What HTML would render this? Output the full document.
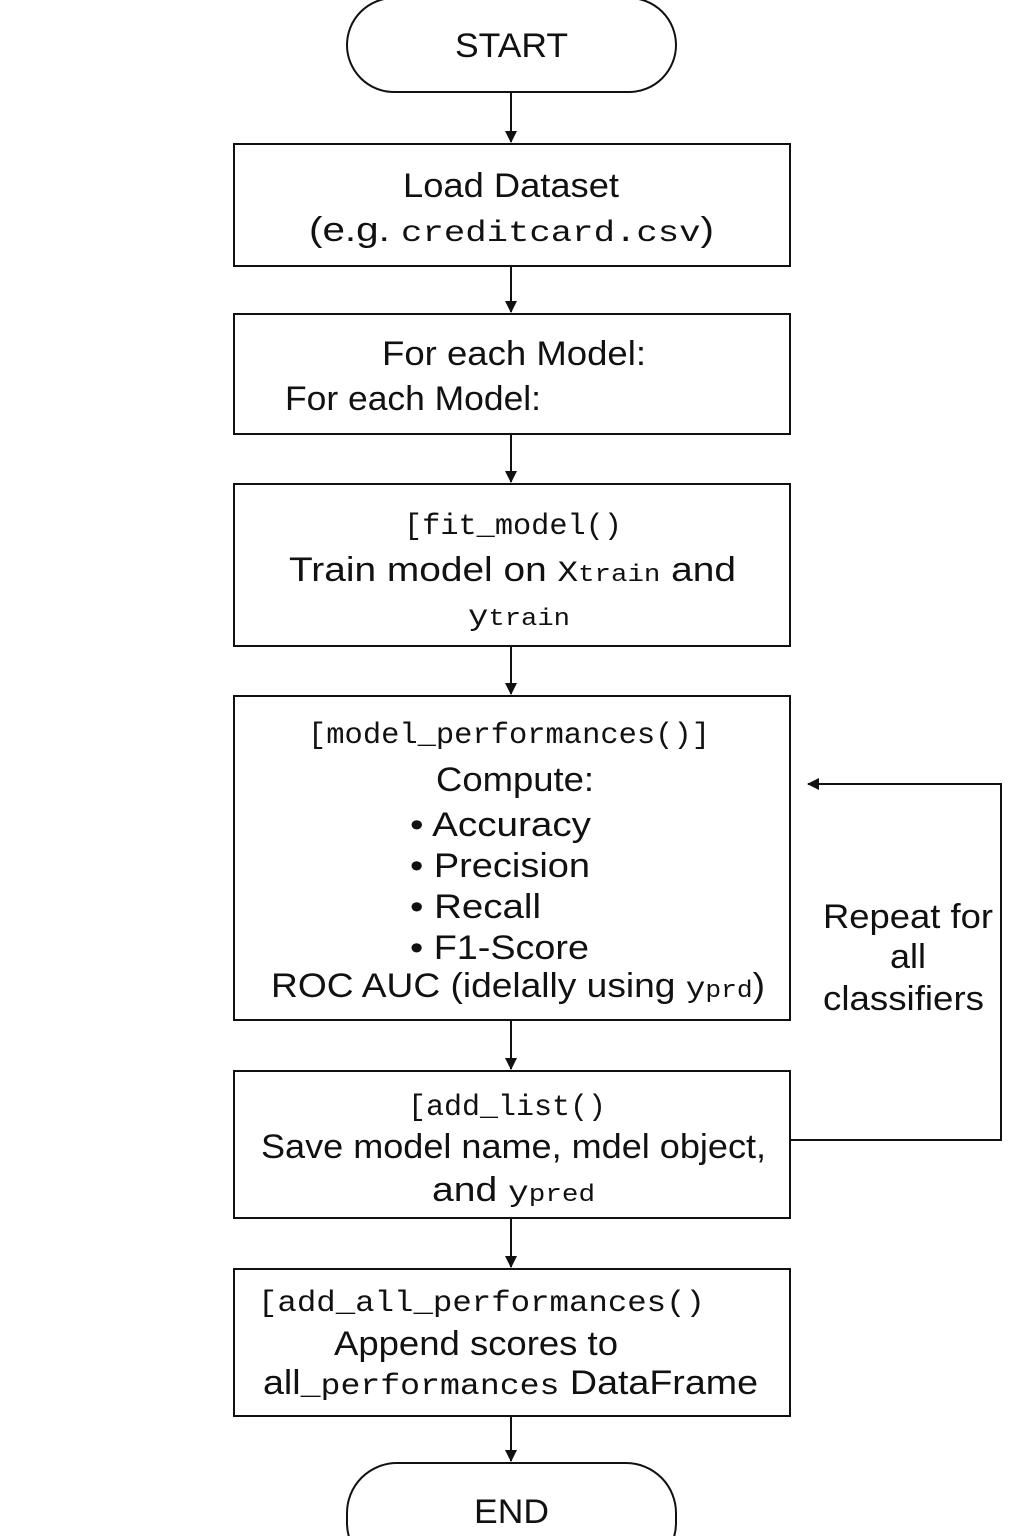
<!DOCTYPE html>
<html><head><meta charset="utf-8"><style>
html,body{margin:0;padding:0;background:#fff}
svg{display:block}
text{font-family:"Liberation Sans",sans-serif;font-size:34px;fill:#111}
.m{font-family:"Liberation Mono",monospace;font-size:30px}
.s{font-family:"Liberation Mono",monospace;font-size:24px}
</style></head><body>
<svg width="1024" height="1536" viewBox="0 0 1024 1536" xmlns="http://www.w3.org/2000/svg">
<defs><marker id="a" markerWidth="12" markerHeight="12" refX="11" refY="6" orient="auto" markerUnits="userSpaceOnUse"><path d="M0,0 L12,6 L0,12 Z" fill="#111"/></marker></defs>
<g fill="none" stroke="#111" stroke-width="2">
<rect x="347" y="-2" width="329" height="94" rx="47"/>
<rect x="234" y="144" width="556" height="122"/>
<rect x="234" y="314" width="556" height="120"/>
<rect x="234" y="484" width="556" height="162"/>
<rect x="234" y="696" width="556" height="324"/>
<rect x="234" y="1071" width="556" height="147"/>
<rect x="234" y="1269" width="556" height="147"/>
<rect x="347" y="1463" width="329" height="110" rx="50"/>
<line x1="511" y1="92" x2="511" y2="142" marker-end="url(#a)"/>
<line x1="511" y1="266" x2="511" y2="312" marker-end="url(#a)"/>
<line x1="511" y1="434" x2="511" y2="482" marker-end="url(#a)"/>
<line x1="511" y1="646" x2="511" y2="694" marker-end="url(#a)"/>
<line x1="511" y1="1020" x2="511" y2="1069" marker-end="url(#a)"/>
<line x1="511" y1="1218" x2="511" y2="1267" marker-end="url(#a)"/>
<line x1="511" y1="1416" x2="511" y2="1461" marker-end="url(#a)"/>
<polyline points="790,1140 1001,1140 1001,784 808,784" marker-end="url(#a)"/>
</g>
<g lengthAdjust="spacingAndGlyphs">
<text x="455" y="57" textLength="113" lengthAdjust="spacingAndGlyphs">START</text>
<text x="403" y="197" textLength="216" lengthAdjust="spacingAndGlyphs">Load Dataset</text>
<text x="309" y="241" textLength="405" lengthAdjust="spacingAndGlyphs">(e.g. <tspan class="m">creditcard.csv</tspan>)</text>
<text x="382" y="365" textLength="264" lengthAdjust="spacingAndGlyphs">For each Model:</text>
<text x="285" y="410" textLength="256" lengthAdjust="spacingAndGlyphs">For each Model:</text>
<text x="404" y="534" class="m" textLength="218" lengthAdjust="spacingAndGlyphs">[fit_model()</text>
<text x="289" y="581" textLength="447" lengthAdjust="spacingAndGlyphs">Train model on <tspan class="m" font-size="34">X</tspan><tspan class="s">train</tspan>  and</text>
<text x="468" y="625" textLength="102" lengthAdjust="spacingAndGlyphs"><tspan class="m" font-size="34">y</tspan><tspan class="s">train</tspan></text>
<text x="308" y="743" class="m" textLength="402" lengthAdjust="spacingAndGlyphs">[model_performances()]</text>
<text x="436" y="791" textLength="158" lengthAdjust="spacingAndGlyphs">Compute:</text>
<text x="410" y="836" textLength="181" lengthAdjust="spacingAndGlyphs">• Accuracy</text>
<text x="410" y="877" textLength="180" lengthAdjust="spacingAndGlyphs">• Precision</text>
<text x="410" y="918" textLength="131" lengthAdjust="spacingAndGlyphs">• Recall</text>
<text x="410" y="959" textLength="179" lengthAdjust="spacingAndGlyphs">• F1-Score</text>
<text x="271" y="997" textLength="494" lengthAdjust="spacingAndGlyphs">ROC AUC (idelally  using <tspan class="m" font-size="34">y</tspan><tspan class="s" font-size="20">prd</tspan>)</text>
<text x="823" y="928" textLength="170" lengthAdjust="spacingAndGlyphs">Repeat for</text>
<text x="890" y="968" textLength="36" lengthAdjust="spacingAndGlyphs">all</text>
<text x="823" y="1010" textLength="161" lengthAdjust="spacingAndGlyphs">classifiers</text>
<text x="408" y="1115" class="m" textLength="198" lengthAdjust="spacingAndGlyphs">[add_list()</text>
<text x="261" y="1158" textLength="505" lengthAdjust="spacingAndGlyphs">Save model name, mdel object,</text>
<text x="432" y="1201" textLength="163" lengthAdjust="spacingAndGlyphs">and <tspan class="m" font-size="34">y</tspan><tspan class="s">pred</tspan></text>
<text x="258" y="1311" class="m" textLength="447" lengthAdjust="spacingAndGlyphs">[add_all_performances()</text>
<text x="334" y="1355" textLength="284" lengthAdjust="spacingAndGlyphs">Append scores to</text>
<text x="263" y="1394" textLength="495" lengthAdjust="spacingAndGlyphs">all<tspan class="m">_performances</tspan> DataFrame</text>
<text x="474" y="1523" textLength="75" lengthAdjust="spacingAndGlyphs">END</text>
</g>
</svg>
</body></html>
